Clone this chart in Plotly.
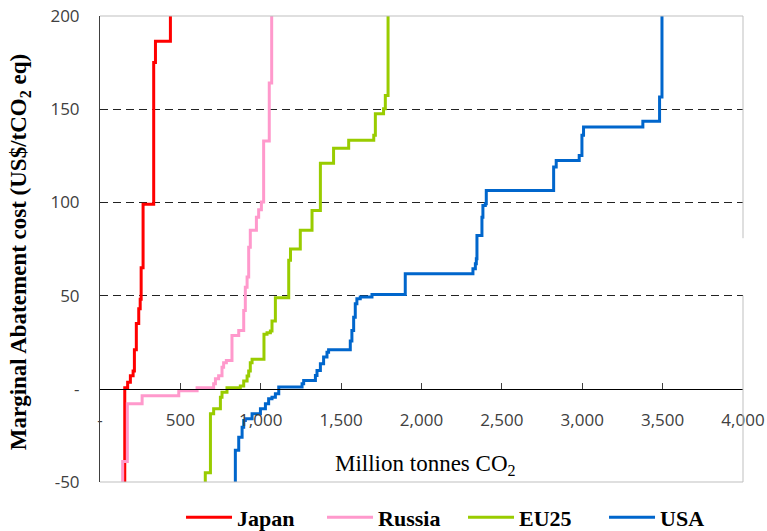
import plotly.graph_objects as go

# ---- data ----
countries = ["Japan", "Russia", "EU25", "USA"]
colors = ["#FF0000", "#FF99CC", "#99CC00", "#0066CC"]

japan_x = [154, 154, 172, 189, 206, 214, 226, 241, 250, 256, 268, 334, 345, 438]
japan_y = [-100, 0.6, 3.5, 7, 9.5, 21, 35, 43, 48, 65, 99, 175, 186.5, 250]

russia_x = [141, 141, 170, 262, 490, 604, 707, 718, 738, 759, 769, 786, 821, 863,
            894, 904, 915, 925, 935, 973, 987, 1004, 1018, 1053, 1068]
russia_y = [-100, -39, -8, -3.7, -1, 0.5, 2.7, 5.4, 7, 11.6, 14, 15.2, 28.6, 31.3,
            42, 54.5, 60, 76, 85, 92, 96, 100.2, 133, 164, 250]

eu25_x = [655, 655, 687, 707, 749, 759, 790, 873, 894, 915, 925, 935, 946, 1020,
          1039, 1060, 1070, 1091, 1174, 1185, 1246, 1319, 1371, 1453, 1547, 1703,
          1713, 1764, 1775, 1792]
eu25_y = [-100, -45, -13.4, -10.7, -4.5, -1.8, 0.6, 1.5, 4.2, 6.9, 9.5, 14, 15.8, 29.2,
          30.1, 31, 36.4, 48.9, 69, 75, 85, 95.7, 121, 129, 133.3, 136,
          147.6, 150.3, 157.4, 250]

usa_x = [842, 842, 863, 884, 894, 904, 946, 998, 1029, 1049, 1070, 1091, 1112, 1257,
         1267, 1340, 1350, 1371, 1391, 1412, 1422, 1557, 1567, 1578, 1588, 1598, 1619,
         1692, 1899, 2320, 2335, 2341, 2345, 2376, 2382, 2397, 2403, 2822, 2838, 2981,
         2998, 3008, 3377, 3481, 3496]
usa_y = [-100, -33, -26, -20.6, -17, -16.1, -13.4, -10.7, -8, -5.4, -4.5, -2.7, 0.9, 2.7,
         4.5, 7.1, 9.8, 13.4, 17, 19.6, 21, 25.7, 31.3, 38.4, 45.6, 48.3, 49.2,
         50.6, 61.7, 64.4, 67.1, 69.8, 82.3, 92.1, 98.4, 99.3, 106.4, 119, 122.5, 125.2,
         136, 140.4, 143.6, 156.5, 250]

x_tick_vals = [0, 500, 1000, 1500, 2000, 2500, 3000, 3500, 4000]
x_tick_text = ["-", "500", "1,000", "1,500", "2,000", "2,500", "3,000", "3,500", "4,000"]
y_tick_vals = [-50, 0, 50, 100, 150, 200]
y_tick_text = ["-50", "-", "50", "100", "150", "200"]
y_grid_vals = [50, 100, 150]

x_title = "Million tonnes CO<sub>2</sub>"
y_title = "Marginal Abatement cost (US$/tCO<sub>2</sub> eq)"

series_x = [japan_x, russia_x, eu25_x, usa_x]
series_y = [japan_y, russia_y, eu25_y, usa_y]

# ---- figure ----
fig = go.Figure()
for name, xs, ys, col in zip(countries, series_x, series_y, colors):
    fig.add_trace(go.Scatter(x=xs, y=ys, mode="lines", name=name,
                             line=dict(color=col, width=3, shape="hv")))

tick_font = dict(family="Open Sans", size=17, color="#404040")
serif = "Liberation Serif"

fig.update_layout(
    width=767, height=531,
    margin=dict(l=100, r=24, t=16, b=49, autoexpand=False),
    paper_bgcolor="white", plot_bgcolor="white",
    showlegend=True,
    legend=dict(orientation="h", x=0.126, xanchor="left", y=-0.076, yanchor="middle",
                font=dict(family=serif, size=22, color="black", weight="bold"),
                entrywidth=80, itemwidth=46, bgcolor="rgba(0,0,0,0)"),
    xaxis=dict(range=[0, 4000], anchor="free", position=0.2,
               showline=True, linecolor="black", linewidth=1,
               ticks="inside", ticklen=6, tickcolor="#404040",
               tickvals=x_tick_vals, ticktext=x_tick_text, tickfont=tick_font,
               ticklabelstandoff=16, showgrid=False, zeroline=False),
    yaxis=dict(range=[-50, 200], tickvals=y_tick_vals, ticktext=y_tick_text,
               tickfont=tick_font, ticks="", ticklabelstandoff=16,
               showline=True, linecolor="#404040", linewidth=1,
               showgrid=False, zeroline=False),
    yaxis2=dict(range=[-50, 200], overlaying="y", tickvals=y_grid_vals,
                showticklabels=False, ticks="", showline=False,
                showgrid=True, gridcolor="#222222", gridwidth=1, griddash="8px,5px",
                zeroline=False),
    annotations=[
        dict(text=x_title, xref="paper", yref="paper", x=0.506, y=0.036,
             xanchor="center", yanchor="middle", showarrow=False,
             font=dict(family=serif, size=23, color="black")),
        dict(text=y_title, xref="paper", yref="paper", x=-0.1244, y=0.493,
             xanchor="center", yanchor="middle", showarrow=False, textangle=-90,
             font=dict(family=serif, size=23, color="black", weight="bold")),
    ],
    shapes=[
        dict(type="line", xref="paper", yref="paper", x0=0, x1=1, y0=1, y1=1,
             line=dict(color="#BFBFBF", width=1)),
        dict(type="line", xref="paper", yref="paper", x0=0, x1=1, y0=0, y1=0,
             line=dict(color="#BFBFBF", width=1)),
        dict(type="line", xref="paper", yref="y", x0=1, x1=1, y0=200, y1=80.8,
             line=dict(color="#BFBFBF", width=1)),
        dict(type="line", xref="paper", yref="y", x0=1, x1=1, y0=50, y1=-50,
             line=dict(color="#BFBFBF", width=1)),
    ],
)

# an invisible trace on the overlay axis so its grid is drawn
fig.add_trace(go.Scatter(x=[0], y=[0], yaxis="y2", mode="markers", showlegend=False,
                         hoverinfo="skip", marker=dict(opacity=0)))

fig.write_html("out.html", config={"displayModeBar": False},
               post_script="document.body.style.margin='0';document.body.style.overflow='hidden';")
